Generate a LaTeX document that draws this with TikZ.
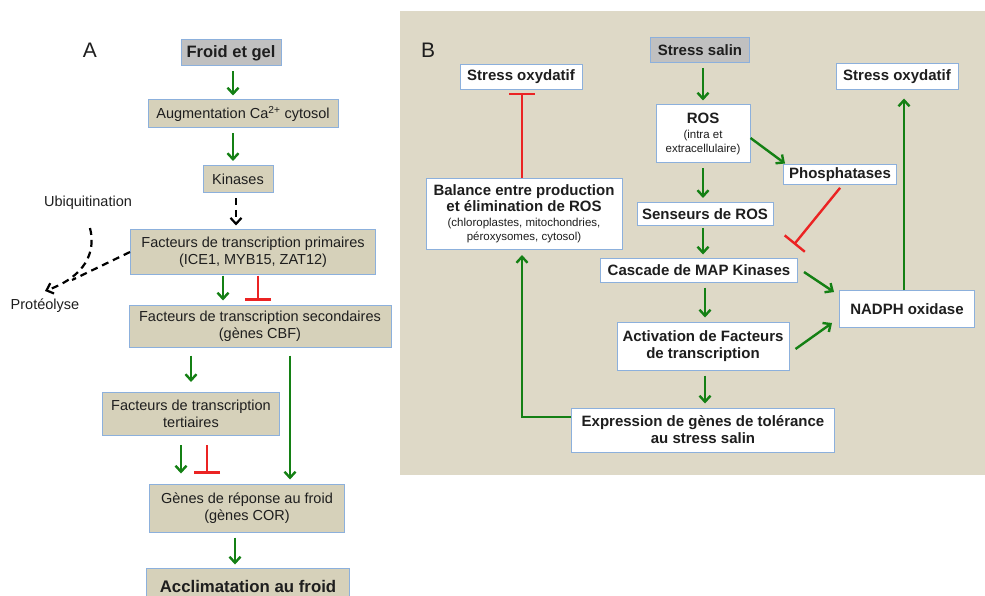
\documentclass[tikz,border=0pt]{standalone}
\usepackage{fontspec}
\setmainfont{Liberation Sans}
\usetikzlibrary{arrows.meta,calc,positioning,shapes}
\definecolor{my_green}{RGB}{20,128,20}
\definecolor{my_red}{RGB}{235,35,35}
\definecolor{my_beige}{RGB}{214,209,186}
\definecolor{my_panel}{RGB}{222,217,199}
\definecolor{my_gray}{RGB}{192,192,192}
\definecolor{my_blue}{RGB}{140,176,220}
\definecolor{my_text}{RGB}{30,30,30}
\tikzset{
  box/.style = {draw=my_blue, line width=1pt, align=center, inner sep=1pt, text=my_text,
  font=\fontsize{14.5}{17}\selectfont},
  box_a/.style = {box, fill=my_beige},
  box_b/.style = {box, fill=white, font=\bfseries\fontsize{15}{17}\selectfont},
  box_s/.style = {box, fill=my_gray, font=\bfseries\fontsize{16.5}{18}\selectfont},
  lbl/.style = {text=my_text, font=\fontsize{14.5}{17}\selectfont, inner sep=0pt}
}

\begin{document}
\begin{tikzpicture}[x=1pt,y=-1pt,
        act/.style={draw=my_green, line width=2.4pt, shorten <=5pt, shorten >=4pt,
          -{Straight Barb[length=6pt,width=11pt]}},
        inh/.style={draw=my_red, line width=2.4pt, shorten <=5pt, shorten >=4pt,
          -{Bar[width=26pt,line width=2.4pt]}},
        dsh/.style={draw=black, line width=2.2pt, dash pattern=on 7pt off 5pt}]
  \useasboundingbox (0,0) rectangle (985,596);
  \fill[my_panel] (400,11) rectangle (985,475);

  % panel A
  \node[font=\fontsize{21}{23}\selectfont, text=my_text] (la) at (90,50) {A};
  \node[box_s, minimum width=100, minimum height=26] (froid) at (231,53) {Froid et gel};
  \node[box_a, minimum width=190, minimum height=28] (calcium) at (243,114) {Augmentation Ca\textsuperscript{2+} cytosol};
  \node[box_a, minimum width=70, minimum height=27] (kinases) at (238,179) {Kinases};
  \node[box_a, minimum width=245, minimum height=44] (prim) at (253,252) {Facteurs de transcription primaires\\(ICE1, MYB15, ZAT12)};
  \node[box_a, minimum width=262, minimum height=42] (second) at (260,326) {Facteurs de transcription secondaires\\(gènes CBF)};
  \node[box_a, minimum width=177, minimum height=43] (tert) at (191,414) {Facteurs de transcription\\tertiaires};
  \node[box_a, minimum width=195, minimum height=48] (cor) at (247,508) {Gènes de réponse au froid\\(gènes COR)};
  \node[box_a, minimum width=203, minimum height=36, font=\bfseries\fontsize{16.8}{18}\selectfont] (acclim) at (248,586) {Acclimatation au froid};
  \node[lbl] (ubiq) at (88,203) {Ubiquitination};
  \node[lbl] (proteo) at (45,306) {Protéolyse};
  \coordinate (ub_a) at (90,228);
  \coordinate (ub_m) at (72,280);

  \draw[act] (froid.south -| 233,0) -- (calcium.north -| 233,0);
  \draw[act] (calcium.south -| 233,0) -- (kinases.north -| 233,0);
  \draw[dsh, shorten <=5pt, shorten >=4pt, -{Straight Barb[length=6pt,width=11pt]}] ([xshift=-2]kinases.south) -- ([xshift=-2]kinases.south |- prim.north);
  \draw[dsh, -{Straight Barb[length=6pt,width=11pt]}] (ub_a) .. controls (96,252) and (86,276) .. ([yshift=8]proteo.north);
  \draw[dsh] (prim.west) -- (ub_m);
  \draw[act, shorten <=1pt] ([xshift=-30]prim.south) -- ([xshift=-30]prim.south |- second.north);
  \draw[inh, shorten <=1pt] ([xshift=5]prim.south) -- ([xshift=5]prim.south |- second.north);
  \draw[act, shorten <=8pt, shorten >=10pt] (second.south -| tert.north) -- (tert.north);
  \draw[act, shorten <=8pt] ([xshift=30]second.south) -- ([xshift=30]second.south |- cor.north);
  \draw[act, shorten <=9pt, shorten >=10pt] ([xshift=-10]tert.south) -- ([xshift=-10]tert.south |- cor.north);
  \draw[inh, shorten <=9pt, shorten >=10pt] ([xshift=16]tert.south) -- ([xshift=16]tert.south |- cor.north);
  \draw[act, shorten >=3pt] ([xshift=-12]cor.south) -- ([xshift=-12]cor.south |- acclim.north);

  % panel B
  \node[font=\fontsize{21}{23}\selectfont, text=my_text] (lb) at (428,50) {B};
  \node[box_s, minimum width=99, minimum height=25, font=\bfseries\fontsize{15}{17}\selectfont] (salin) at (700,50) {Stress salin};
  \node[box_b, minimum width=122, minimum height=25] (sox_l) at (521,77) {Stress oxydatif};
  \node[box_b, minimum width=122, minimum height=26] (sox_r) at (897,77) {Stress oxydatif};
  \node[box_b, minimum width=94, minimum height=58] (ros) at (703,134) {ROS\\[-2pt]{\mdseries\fontsize{11.5}{13}\selectfont (intra et}\\[-3pt]{\mdseries\fontsize{11.5}{13}\selectfont extracellulaire)}};
  \node[box_b, minimum width=113, minimum height=20] (phos) at (840,175) {Phosphatases};
  \node[box_b, minimum width=196, minimum height=71] (balance) at (524,214) {Balance entre production\\[-1pt]et élimination de ROS\\[-2pt]{\mdseries\fontsize{11.5}{13}\selectfont (chloroplastes, mitochondries,}\\[-3pt]{\mdseries\fontsize{11.5}{13}\selectfont péroxysomes, cytosol)}};
  \node[box_b, minimum width=136, minimum height=23] (senseurs) at (705,214) {Senseurs de ROS};
  \node[box_b, minimum width=197, minimum height=24] (cascade) at (699,270) {Cascade de MAP Kinases};
  \node[box_b, minimum width=135, minimum height=37] (nadph) at (907,309) {NADPH oxidase};
  \node[box_b, minimum width=172, minimum height=48] (activ) at (703,346) {Activation de Facteurs\\de transcription};
  \node[box_b, minimum width=263, minimum height=44] (expr) at (703,430) {Expression de gènes de tolérance\\au stress salin};

  \draw[act] ([xshift=3]salin.south) -- ([xshift=3]salin.south |- ros.north);
  \draw[act] (ros.south) -- (ros.south |- senseurs.north);
  \draw[act, shorten >=3pt, shorten <=2pt] ([xshift=-2]senseurs.south) -- ([xshift=-2]senseurs.south |- cascade.north);
  \draw[act] ([xshift=6]cascade.south) -- ([xshift=6]cascade.south |- activ.north);
  \draw[act] ([xshift=2]activ.south) -- ([xshift=2]activ.south |- expr.north);
  \draw[act, shorten <=0pt, shorten >=0pt] ([yshift=-4]ros.east) -- ([xshift=2,yshift=1]phos.north west);
  \draw[inh, shorten <=3pt, shorten >=0pt] ([xshift=2]phos.south) -- ([xshift=-4,yshift=13]cascade.north east);
  \draw[act, shorten <=0pt, shorten >=0pt] ([xshift=6,yshift=-2]cascade.east) -- ([xshift=-5,yshift=-2]nadph.north west);
  \draw[act, shorten <=0pt, shorten >=0pt] ([xshift=6,yshift=-3]activ.east) -- ([xshift=-7,yshift=5]nadph.south west);
  \draw[act, shorten <=0pt, shorten >=8pt] ([xshift=-3]nadph.north) -- ([xshift=-3]nadph.north |- sox_r.south);
  \draw[act, shorten <=0pt, shorten >=5pt] ([yshift=13]expr.west) -| ([xshift=-2]balance.south);
  \draw[inh, shorten <=0pt, shorten >=3pt] ([xshift=-2]balance.north) -- ([xshift=-2]balance.north |- sox_l.south);
\end{tikzpicture}
\end{document}
